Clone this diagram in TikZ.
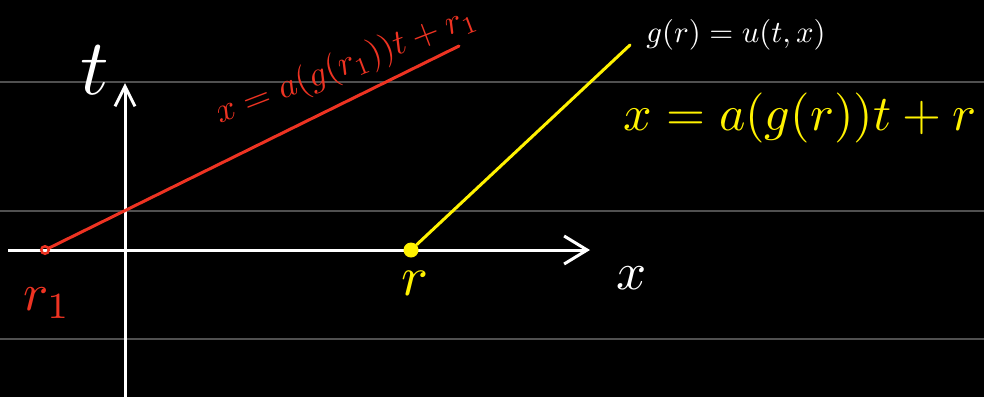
\documentclass[tikz,border=0pt]{standalone}
\usepackage{amsmath}
\usetikzlibrary{arrows.meta}
\definecolor{boardblack}{HTML}{000000}
\definecolor{rulegray}{HTML}{505050}
\definecolor{chalkred}{HTML}{EE3322}
\definecolor{chalkyellow}{HTML}{FFF200}
\definecolor{chalkwhite}{HTML}{FFFFFF}

\begin{document}
\begin{tikzpicture}[x=0.2mm, y=-0.2mm,
  rule/.style={rulegray, line width=0.3mm},
  axis/.style={chalkwhite, line width=0.6mm},
  char/.style={line width=0.6mm, line cap=round},
  lab/.style={inner sep=0pt, text=#1}]
  % board and ruled lines
  \fill[boardblack] (0,0) rectangle (984,397);
  \useasboundingbox (0,0) rectangle (984,397);
  \foreach \y in {82,211,339}
    \draw[rule] (0,\y) -- (984,\y);
  % axes
  \coordinate (xfrom) at (8,250);
  \coordinate (xto) at (590,250);
  \coordinate (tfrom) at (125,397);
  \coordinate (tto) at (125,83);
  \draw[axis, -{Straight Barb[length=4.6mm, width=5.6mm, line width=0.6mm]}] (xfrom) -- (xto);
  \draw[axis, -{Straight Barb[length=4mm, width=4mm, line width=0.6mm]}] (tfrom) -- (tto);
  \node[lab=chalkwhite, scale=4.5] (tlab) at (95,70) {$t$};
  \node[lab=chalkwhite, scale=3] (xlab) at (632,278) {$x$};
  % characteristics
  \node[circle, draw=chalkred, line width=0.5mm, minimum size=1.5mm, inner sep=0pt] (r1) at (45,250) {};
  \node[circle, fill=chalkyellow, minimum size=3mm, inner sep=0pt] (r) at (411,250) {};
  \coordinate (redend) at (459,46);
  \coordinate (yellowend) at (630,45);
  \draw[char, chalkred] (r1) -- (redend);
  \draw[char, chalkyellow] (r) -- (yellowend);
  \node[lab=chalkred, scale=3] (r1lab) at (47,303) {$r_1$};
  \node[lab=chalkyellow, scale=3.2] (rlab) at (415,283) {$r$};
  % equations
  \node[lab=chalkred, scale=2, rotate=21] (redeq) at (346,66) {$x = a(g(r_1))t + r_1$};
  \node[lab=chalkwhite, scale=1.75] (geq) at (736,35) {$g(r) = u(t,x)$};
  \node[lab=chalkyellow, scale=2.85] (yelloweq) at (800,118) {$x = a(g(r))t + r$};
\end{tikzpicture}
\end{document}
